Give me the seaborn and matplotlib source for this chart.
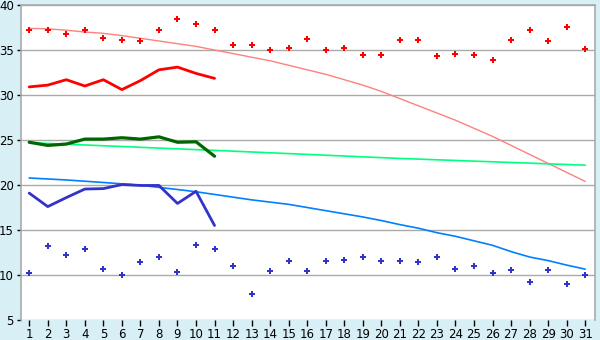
import matplotlib
matplotlib.use("Agg")
import matplotlib.pyplot as plt
import seaborn as sns
import pandas as pd

days = list(range(1, 32))

# daily max temperatures (red points)
max_pts = [37.2, 37.2, 36.8, 37.2, 36.3, 36.1, 36.0, 37.2, 38.4, 37.9,
           37.2, 35.6, 35.6, 35.0, 35.2, 36.2, 35.0, 35.2, 34.4, 34.4,
           36.1, 36.1, 34.3, 34.6, 34.4, 33.9, 36.1, 37.2, 36.0, 37.6, 35.1]
# daily min temperatures (blue points)
min_pts = [10.2, 13.2, 12.2, 12.9, 10.7, 10.0, 11.5, 12.0, 10.3, 13.3,
           12.9, 11.0, 7.9, 10.5, 11.6, 10.4, 11.6, 11.7, 12.0, 11.6,
           11.6, 11.4, 12.0, 10.7, 11.0, 10.2, 10.6, 9.2, 10.6, 9.0, 10.0]

# partial-month lines (days 1-11)
line_days = list(range(1, 12))
red_line = [30.9, 31.1, 31.7, 31.0, 31.7, 30.6, 31.6, 32.8, 33.1, 32.4, 31.85]
green_line = [24.75, 24.4, 24.55, 25.1, 25.1, 25.25, 25.1, 25.35, 24.75, 24.8, 23.2]
blue_line = [19.1, 17.6, 18.6, 19.55, 19.6, 20.05, 19.95, 19.95, 17.95, 19.3, 15.5]

# normal curves
pink_trend = [37.4, 37.35, 37.2, 37.0, 36.85, 36.6, 36.3, 36.0, 35.7, 35.4,
              35.0, 34.6, 34.2, 33.8, 33.3, 32.8, 32.3, 31.7, 31.1, 30.4,
              29.6, 28.8, 28.0, 27.2, 26.3, 25.4, 24.4, 23.4, 22.4, 21.4, 20.4]
green_trend = [24.7, 24.62, 24.53, 24.45, 24.36, 24.28, 24.19, 24.1, 24.02, 23.93,
               23.85, 23.76, 23.67, 23.58, 23.49, 23.4, 23.31, 23.22, 23.13, 23.04,
               22.95, 22.88, 22.8, 22.73, 22.65, 22.58, 22.5, 22.43, 22.35, 22.28, 22.2]
blue_trend = [20.78, 20.67, 20.56, 20.42, 20.28, 20.13, 19.98, 19.73, 19.5, 19.25,
              18.95, 18.65, 18.35, 18.1, 17.85, 17.5, 17.15, 16.8, 16.45, 16.05,
              15.6, 15.2, 14.7, 14.3, 13.8, 13.3, 12.6, 12.0, 11.6, 11.1, 10.65]

y_ticks = [5, 10, 15, 20, 25, 30, 35, 40]

sns.set_theme(style="white")
plt.rcParams['font.family'] = ['DejaVu Sans']

bg = "#D9EFF6"
fig = plt.figure(figsize=(6, 3.4), dpi=100, facecolor=bg)
ax = fig.add_axes([0.0345, 0.0588, 0.9572, 0.9265])
ax.set_facecolor("white")

full = pd.DataFrame({"day": days, "max": max_pts, "min": min_pts,
                     "pink": pink_trend, "gtrend": green_trend, "btrend": blue_trend})
part = pd.DataFrame({"day": line_days, "red": red_line, "green": green_line, "blue": blue_line})

for y in y_ticks:
    ax.axhline(y, color="#AAAAAA", lw=1.0, zorder=0)

sns.lineplot(data=full, x="day", y="pink", color="#FF8080", lw=1, ax=ax, zorder=2)
sns.lineplot(data=full, x="day", y="gtrend", color="#00FF80", lw=1.2, ax=ax, zorder=2)
sns.lineplot(data=full, x="day", y="btrend", color="#0080FF", lw=1.2, ax=ax, zorder=2)

sns.lineplot(data=part, x="day", y="red", color="#FF0000", lw=2, ax=ax, zorder=3)
sns.lineplot(data=part, x="day", y="green", color="#006600", lw=2.3, ax=ax, zorder=3)
sns.lineplot(data=part, x="day", y="blue", color="#3333CC", lw=2, ax=ax, zorder=3)

sns.scatterplot(data=full, x="day", y="max", color="#FF0000", marker="P", s=20,
                linewidth=0, ax=ax, zorder=4)
sns.scatterplot(data=full, x="day", y="min", color="#3333CC", marker="P", s=15,
                linewidth=0, ax=ax, zorder=4)

ax.set_xlim(0.54, 31.53)
ax.set_ylim(5, 40)
ax.set_xticks(days)
ax.set_xticklabels([str(d) for d in days])
ax.set_yticks(y_ticks)
ax.set_yticklabels([str(v) for v in y_ticks])
ax.set_xlabel("")
ax.set_ylabel("")
ax.tick_params(axis="both", labelsize=8.5, colors="black", length=4, width=1,
               direction="out", pad=2)
ax.tick_params(axis="x", bottom=True)
ax.tick_params(axis="y", left=True, length=3)
for s in ["left", "right", "top"]:
    ax.spines[s].set_visible(True)
    ax.spines[s].set_color("#AAAAAA")
    ax.spines[s].set_linewidth(1.2)
ax.spines["bottom"].set_visible(False)

fig.savefig("out.png", dpi=100, facecolor=bg)
